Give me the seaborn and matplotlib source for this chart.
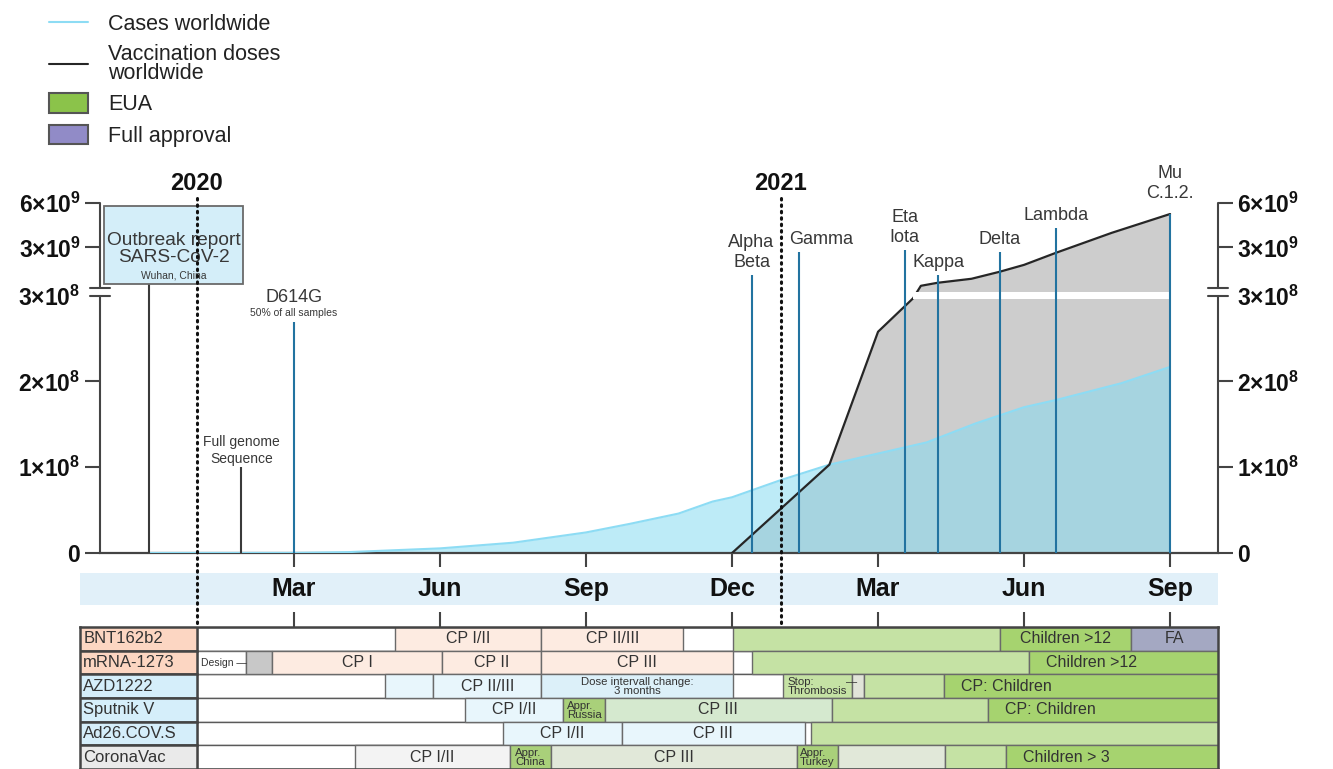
import numpy as np
import pandas as pd
import matplotlib
matplotlib.use("Agg")
import matplotlib.pyplot as plt
import matplotlib.transforms as mtransforms
from matplotlib.lines import Line2D
from matplotlib.patches import Patch, Rectangle
import seaborn as sns

# time axis: months counted from 1 Jan 2020 (0 = Jan 2020, 12 = Jan 2021)
case_months = [-0.98, 2.0, 3.1, 5.0, 6.5, 8.0, 8.9, 9.9, 10.6, 11.0, 12.0, 13.0,
               14.0, 15.0, 16.0, 17.0, 17.7, 19.0, 20.0]
case_values = [0, 1e5, 1e6, 5.4e6, 1.2e7, 2.4e7, 3.4e7, 4.6e7, 6.0e7, 6.5e7, 8.5e7, 1.03e8,
               1.16e8, 1.29e8, 1.51e8, 1.70e8, 1.79e8, 1.98e8, 2.17e8]

dose_months = [11.0, 13.0, 14.0, 14.72, 14.88, 15.22, 15.92, 16.5, 17.0, 17.65, 18.8, 20.0]
dose_values = [0, 1.03e8, 2.58e8, 2.97e8, 4.3e8, 6.3e8, 9.0e8, 1.37e9, 1.83e9, 2.63e9, 3.97e9, 5.23e9]

event_labels = ["Outbreak report\nSARS-CoV-2", "Full genome\nSequence", "D614G", "Alpha\nBeta",
                "Gamma", "Eta\nIota", "Kappa", "Delta", "Lambda", "Mu\nC.1.2."]
event_notes = ["Wuhan, China", "", "50% of all samples", "", "", "", "", "", "", ""]
event_months = [-0.98, 0.92, 2.0, 11.4, 12.38, 14.55, 15.24, 16.5, 17.65, 20.0]
event_tops = [5.7e8, 1.0e8, 2.69e8, 1.17e9, 2.7e9, 2.83e9, 1.17e9, 2.7e9, 4.3e9, 5.23e9]

ytick_values = [0, 1e8, 2e8, 3e8, 3e9, 6e9]
month_ticks = [2, 5, 8, 11, 14, 17, 20]
month_names = ["Mar", "Jun", "Sep", "Dec", "Mar", "Jun", "Sep"]
year_starts = [0, 12]
year_names = ["2020", "2021"]

vaccines = ["BNT162b2", "mRNA-1273", "AZD1222", "Sputnik V", "Ad26.COV.S", "CoronaVac"]
platforms = ["mrna", "mrna", "vector", "vector", "vector", "inactivated"]

# (start month, end month, label, kind)
bnt_phases = [(4.08, 7.08, "CP I/II", "trial_m"), (7.08, 10.0, "CP II/III", "trial_m"),
              (11.02, 16.5, "", "eua"), (16.5, 19.2, "Children >12", "eua_kids"),
              (19.2, 21.0, "FA", "fa")]
mrna_phases = [(0.0, 1.01, "Design —", "blank"), (1.01, 1.55, "", "design"),
               (1.55, 5.04, "CP I", "trial_m"), (5.04, 7.08, "CP II", "trial_m"),
               (7.08, 11.02, "CP III", "trial_m"), (11.41, 17.1, "", "eua"),
               (17.1, 21.0, "Children >12", "eua_kids")]
azd_phases = [(3.87, 4.86, "", "trial_v"), (4.86, 7.08, "CP II/III", "trial_v"),
              (7.08, 11.02, "Dose intervall change:\n3 months", "trial_v2"),
              (12.05, 13.46, "Stop:\nThrombosis", "eua"), (13.46, 13.71, "", "paused"),
              (13.71, 15.35, "", "eua"), (15.35, 21.0, "CP: Children", "eua_kids")]
sputnik_phases = [(5.51, 7.53, "CP I/II", "trial_v"), (7.53, 8.39, "Appr.\nRussia", "approval"),
                  (8.39, 13.05, "CP III", "trial_s"), (13.05, 16.25, "", "eua"),
                  (16.25, 21.0, "CP: Children", "eua_kids")]
ad26_phases = [(6.29, 8.73, "CP I/II", "trial_v"), (8.73, 12.5, "CP III", "trial_v"),
               (12.63, 21.0, "", "eua")]
coronavac_phases = [(3.25, 6.44, "CP I/II", "trial_i"), (6.44, 7.27, "Appr.\nChina", "approval"),
                    (7.27, 12.33, "CP III", "trial_c"), (12.33, 13.18, "Appr.\nTurkey", "approval"),
                    (13.18, 15.37, "", "trial_c"), (15.37, 16.63, "", "eua"),
                    (16.63, 21.0, "Children > 3", "eua_kids")]
phases = [bnt_phases, mrna_phases, azd_phases, sputnik_phases, ad26_phases, coronavac_phases]

legend_labels = ["Cases worldwide", "Vaccination doses\nworldwide", "EUA", "Full approval"]

# colours
CASE_FILL = "#85daf2"
CASE_LINE = "#8ddcf4"
DOSE_FILL = "#cdcdcd"
EVENT_BLUE = "#2273a0"
TEXT = "#383838"
platform_colors = {"mrna": "#fcd6c2", "vector": "#d5eefa", "inactivated": "#eaeaea"}
kind_colors = {"blank": "white", "design": "#c8c8c8", "trial_m": "#fdebe1", "trial_v": "#e8f6fc",
               "trial_v2": "#dcf0f9", "trial_i": "#f3f3f3", "trial_s": "#d5e9cf",
               "trial_c": "#e1e8d9", "eua": "#c5e2a4", "eua_kids": "#a6d36f",
               "approval": "#a9d07a", "paused": "#e1e4d9", "fa": "#a4a8c2"}

# broken y axis: linear up to 3e8, small gap, compressed linear above
BREAK_VALUES = [-1e9, 0, 3e8, 3.0001e8, 6e9, 6e10]
BREAK_UNITS = [-10.0, 0, 3.0, 3.093, 4.087, 13.506]


def to_axis(v):
    return np.interp(v, BREAK_VALUES, BREAK_UNITS)


def from_axis(u):
    return np.interp(u, BREAK_UNITS, BREAK_VALUES)


def sci_label(v):
    if v == 0:
        return r"$\mathbf{0}$"
    exp = int(np.floor(np.log10(v)))
    return r"$\mathbf{%d{\times}10^{%d}}$" % (round(v / 10 ** exp), exp)


sns.set_theme(style="white")
plt.rcParams["font.family"] = ["Liberation Sans", "DejaVu Sans"]
plt.rcParams["mathtext.fontset"] = "custom"
plt.rcParams["mathtext.rm"] = "Liberation Sans"
plt.rcParams["mathtext.bf"] = "Liberation Sans:bold"

W, H = 1333, 769
fig = plt.figure(figsize=(W / 100, H / 100), dpi=100)
ax = fig.add_axes([100 / W, 1 - 553 / H, 1118 / W, 350.5 / H])
band = fig.add_axes([80 / W, 1 - 605 / H, 1138 / W, 32 / H])
tab = fig.add_axes([80 / W, 1 - 769 / H, 1138 / W, 142 / H])

# ---- main panel
ax.set_yscale("function", functions=(to_axis, from_axis))
ax.fill_between(dose_months, 0, dose_values, color=DOSE_FILL, lw=0, zorder=1)
ax.fill_between(case_months, 0, case_values, color=CASE_FILL, alpha=0.54, lw=0, zorder=2)
cases_df = pd.DataFrame({"month": case_months, "cases": case_values})
doses_df = pd.DataFrame({"month": dose_months, "doses": dose_values})
sns.lineplot(data=cases_df, x="month", y="cases", ax=ax, color=CASE_LINE, lw=1.5,
             estimator=None, sort=False, legend=False, zorder=3)
sns.lineplot(data=doses_df, x="month", y="doses", ax=ax, color="#262626", lw=1.6,
             estimator=None, sort=False, legend=False, zorder=4)
# white stripe where the axis is broken
ax.fill_between([dose_months[3], dose_months[-1]], 2.965e8, 3.00005e8, color="white", lw=0, zorder=5)

for label, note, m, top in zip(event_labels, event_notes, event_months, event_tops):
    col = EVENT_BLUE if m > 1.5 else "#3a3a3a"
    ax.vlines(m, 0, top, color=col, lw=1.5, zorder=6)
    if label.startswith("Outbreak"):
        continue
    fs = 10 if "genome" in label else 13
    dy = 1 if "genome" in label else 3
    if label.startswith("Mu"):
        dy = 9
    if note:
        ax.annotate(note, (m, top), xytext=(0, 3), textcoords="offset points", ha="center",
                    va="bottom", fontsize=7.5, color=TEXT)
        dy = 12
    ha, dx = ("left", -7) if label == "Gamma" else ("center", 0)
    ax.annotate(label, (m, top), xytext=(dx, dy), textcoords="offset points", ha=ha,
                va="bottom", fontsize=fs, color=TEXT, linespacing=1.22)

# outbreak box
box_left, box_right = -1.905, 0.951
ax.add_patch(Rectangle((box_left, event_tops[0]), box_right - box_left, 5.77e9 - event_tops[0],
                       facecolor="#d4eef9", edgecolor="#6a6a6a", lw=1.3, zorder=7, clip_on=False))
box_cx = (box_left + box_right) / 2
outbreak_lines = event_labels[0].split("\n")
ax.text(box_cx, 3.45e9, outbreak_lines[0], ha="center", va="center", fontsize=13.8, color=TEXT, zorder=8)
ax.text(box_cx, 2.35e9, outbreak_lines[1], ha="center", va="center", fontsize=13.8, color=TEXT, zorder=8)
ax.text(box_cx, 1.12e9, event_notes[0], ha="center", va="center", fontsize=7.5, color=TEXT, zorder=8)

ax.set_xlim(-1.987, 20.985)
ax.set_ylim(0, 6e9)
ax.set_xlabel("")
ax.set_ylabel("")
ax.set_xticks(month_ticks)
ax.set_xticklabels([])
ax.tick_params(axis="x", direction="out", length=10, width=1.5, color="#444", bottom=True)
ax.set_yticks(ytick_values)
ax.set_yticklabels([sci_label(v) for v in ytick_values])
ax.tick_params(axis="y", direction="out", length=11, width=1.5, color="#444", left=True,
               right=True, labelleft=True, labelright=True, labelsize=16.5, pad=3, labelcolor="#111")
ax.yaxis.get_major_ticks()[3].tick1line.set_visible(False)
ax.yaxis.get_major_ticks()[3].tick2line.set_visible(False)
for side in ["left", "right", "top"]:
    ax.spines[side].set_visible(False)
ax.spines["bottom"].set_color("#444")
ax.spines["bottom"].set_linewidth(1.6)
ytrans = ax.get_yaxis_transform()
for xa in [0, 1]:
    ax.add_line(Line2D([xa, xa], [0, 3e8], transform=ytrans, color="#444", lw=1.5, clip_on=False))
    ax.add_line(Line2D([xa, xa], [3.0001e8, 6e9], transform=ytrans, color="#444", lw=1.5, clip_on=False))
    for yb in [3e8, 3.0001e8]:
        ax.add_line(Line2D([xa - 0.0085, xa + 0.0085], [yb, yb], transform=ytrans, color="#444",
                           lw=1.5, clip_on=False))

# ---- month band
band.set_xlim(-2.398, 20.985)
band.set_ylim(0, 1)
band.set_facecolor("#e1f0f9")
for s in band.spines.values():
    s.set_visible(False)
band.set_xticks([])
band.set_yticks([])
for m, name in zip(month_ticks, month_names):
    band.text(m, 0.5, name, ha="center", va="center", fontsize=18, fontweight="bold", color="#111")

# ---- table of vaccine trials
tab.set_xlim(-2.398, 20.985)
tab.set_ylim(6, 0)
x_left = tab.get_xlim()[0]
for i, (name, plat, segs) in enumerate(zip(vaccines, platforms, phases)):
    y = i + 0.5
    tab.barh(y, 0 - x_left, left=x_left, height=1, color=platform_colors[plat],
             edgecolor="#444", lw=1.8, zorder=3)
    tab.text(x_left + 0.07, y, name, ha="left", va="center", fontsize=12, color="#333", zorder=4)
    tab.barh(y, 21.0, left=0, height=1, color="white", edgecolor="#5a5a5a", lw=1.0, zorder=1)
    for start, end, label, kind in segs:
        tab.barh(y, end - start, left=start, height=1, color=kind_colors[kind],
                 edgecolor="#6a6a6a", lw=1.0, zorder=2)
        if not label:
            continue
        if kind == "blank":
            tab.text(start + 0.08, y, label, ha="left", va="center", fontsize=7.5, color="#333", zorder=4)
        elif kind == "eua_kids":
            if name == "BNT162b2":
                tab.text((start + end) / 2, y, label, ha="center", va="center", fontsize=11.5,
                         color="#333", zorder=4)
            else:
                tab.text(start + 0.35, y, label, ha="left", va="center", fontsize=11.5,
                         color="#333", zorder=4)
        elif "\n" in label:
            tab.text((start + end) / 2, y + 0.02, label, ha="center", va="center", fontsize=8.2,
                     color="#333", linespacing=0.8,
                     multialignment="left" if kind != "trial_v2" else "center", zorder=4)
        else:
            tab.text((start + end) / 2, y, label, ha="center", va="center", fontsize=11.5,
                     color="#333", zorder=4)
tab.text(13.45, 2.35, "—", ha="center", va="center", fontsize=8, color="#333", zorder=4)
tab.set_xticks(month_ticks)
tab.set_xticklabels([])
tab.set_yticks([])
tab.xaxis.tick_top()
tab.tick_params(axis="x", direction="out", length=11, width=1.5, color="#444", top=True, bottom=False)
for s in tab.spines.values():
    s.set_color("#444")
    s.set_linewidth(1.8)

# ---- year markers
blend = mtransforms.blended_transform_factory(ax.transData, fig.transFigure)
for m, name in zip(year_starts, year_names):
    fig.add_artist(Line2D([m, m], [1 - 198 / H, 1 - 625 / H], transform=blend, color="#111",
                          lw=2.2, linestyle=(0, (0.5, 1.6)), dash_capstyle="round"))
    fig.text(m, 1 - 183 / H, name, transform=blend, ha="center", va="center", fontsize=17,
             fontweight="bold", color="#111")

# ---- legend
handles = [Line2D([], [], color=CASE_LINE, lw=1.5), Line2D([], [], color="#262626", lw=1.5),
           Patch(facecolor="#8bc34a", edgecolor="#555", lw=1.5),
           Patch(facecolor="#918bc7", edgecolor="#555", lw=1.5)]
leg = fig.legend(handles, legend_labels, loc="upper left", bbox_to_anchor=(49 / W, 1 - 13 / H),
                 frameon=False, fontsize=15.5, handlelength=1.8, handleheight=1.0,
                 handletextpad=0.95, labelspacing=0.42, borderpad=0, borderaxespad=0)
for t in leg.get_texts():
    t.set_color("#222")
leg.get_texts()[1].set_linespacing(0.9)

fig.savefig("out.png", dpi=100)
